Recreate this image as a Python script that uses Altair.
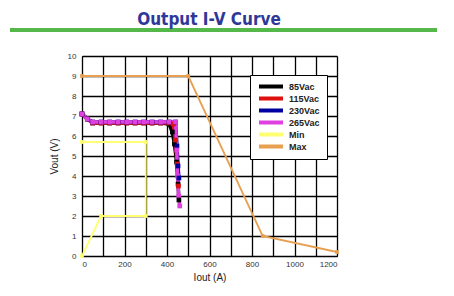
import altair as alt
import pandas as pd

# ---- data ----
i_85 = [0, 25, 50, 90, 130, 170, 210, 250, 290, 330, 370, 410, 425, 435, 445, 452, 456]
v_85 = [7.1, 6.85, 6.65, 6.65, 6.65, 6.65, 6.65, 6.65, 6.65, 6.65, 6.65, 6.6, 6.2, 5.6, 4.7, 3.6, 2.8]
i_115 = [0, 25, 50, 90, 130, 170, 210, 250, 290, 330, 370, 410, 430, 440, 448, 454]
v_115 = [7.1, 6.85, 6.65, 6.65, 6.65, 6.65, 6.65, 6.65, 6.65, 6.65, 6.65, 6.65, 6.6, 5.8, 4.6, 3.5]
i_230 = [0, 25, 50, 90, 130, 170, 210, 250, 290, 330, 370, 410, 440, 447, 452, 456]
v_230 = [7.1, 6.85, 6.7, 6.7, 6.7, 6.7, 6.7, 6.7, 6.7, 6.7, 6.7, 6.7, 6.7, 5.5, 4.5, 3.9]
i_265 = [0, 25, 50, 90, 130, 170, 210, 250, 290, 330, 370, 410, 440, 446, 450, 455, 460]
v_265 = [7.1, 6.85, 6.7, 6.7, 6.7, 6.7, 6.7, 6.7, 6.7, 6.7, 6.7, 6.7, 6.7, 5.3, 4.0, 3.0, 2.5]
i_min = [0, 90, 300, 300, 0]
v_min = [0, 2, 2, 5.7, 5.7]
i_max = [0, 500, 850, 1200]
v_max = [9, 9, 1, 0.2]

series_names = ["85Vac", "115Vac", "230Vac", "265Vac", "Min", "Max"]
series_colors = ["#000000", "#e01010", "#0000a0", "#e040e0", "#ffff70", "#e8a050"]
x_ticks = list(range(0, 1300, 100))
y_ticks = list(range(0, 11))
title_text = "Output I-V Curve"

rows = []
for name, xs, ys in zip(series_names,
                        [i_85, i_115, i_230, i_265, i_min, i_max],
                        [v_85, v_115, v_230, v_265, v_min, v_max]):
    for k, (a, b) in enumerate(zip(xs, ys)):
        rows.append({"series": name, "I": a, "V": b, "order": k})
df = pd.DataFrame(rows)

color = alt.Color("series:N",
                  scale=alt.Scale(domain=series_names, range=series_colors),
                  sort=series_names,
                  legend=alt.Legend(orient="none", legendX=168, legendY=19,
                                    title=None, symbolType="M-1,0H7",
                                    symbolStrokeWidth=4, symbolSize=36,
                                    labelFont="Liberation Sans", labelFontSize=9,
                                    labelFontWeight="bold", labelColor="#222",
                                    rowPadding=2, padding=7, fillColor="white",
                                    strokeColor="black", cornerRadius=0, clipHeight=9,
                                    labelLimit=60, labelOffset=22))

xenc = alt.X("I:Q", scale=alt.Scale(domain=[0, 1200], nice=False),
             axis=alt.Axis(values=x_ticks, title="Iout (A)", format="d",
                           labelExpr="datum.value % 200 == 0 ? datum.label : ''",
                           grid=True, gridColor="black", gridWidth=1.3, gridOpacity=1,
                           domainColor="black", tickSize=0, labelPadding=4,
                           labelFontSize=8, labelColor="#333", labelFont="Liberation Sans",
                           titleFont="Liberation Sans", titleFontSize=10, titleFontWeight="normal",
                           titleColor="#222", titlePadding=4))
yenc = alt.Y("V:Q", scale=alt.Scale(domain=[0, 10], nice=False),
             axis=alt.Axis(values=y_ticks, title="Vout (V)",
                           grid=True, gridColor="black", gridWidth=1.3, gridOpacity=1,
                           domainColor="black", tickSize=0, labelPadding=6,
                           labelFontSize=8, labelColor="#333", labelFont="Liberation Sans",
                           titleFont="Liberation Sans", titleFontSize=10, titleFontWeight="normal",
                           titleColor="#222", titlePadding=8))

thin = df[df.series.isin(["Min", "Max"])]
thick = df[~df.series.isin(["Min", "Max"])]

thin_layer = alt.Chart(thin).mark_line(strokeWidth=1.8, point=alt.OverlayMarkDef(shape="square", size=14, filled=True)).encode(
    x=xenc, y=yenc, color=color, order="order:Q")
thick_layer = alt.Chart(thick).mark_line(strokeWidth=3.5, point=alt.OverlayMarkDef(shape="square", size=22, filled=True)).encode(
    x=xenc, y=yenc, color=color, order="order:Q")

bar = alt.Chart(pd.DataFrame({"a": [0]})).mark_rule(color="#55b84a", strokeWidth=4).encode(
    x=alt.value(-72), x2=alt.value(355), y=alt.value(-26))

title = alt.Chart(pd.DataFrame({"t": [title_text]})).mark_text(
    font="DejaVu Sans Condensed", fontSize=17, fontWeight="bold", color="#2e3899",
    align="center", baseline="alphabetic").encode(
    text="t:N", x=alt.value(127), y=alt.value(-31))

chart = alt.layer(bar, title, thin_layer, thick_layer).properties(
    width=255, height=200,
    padding={"left": 82, "top": 56, "right": 117, "bottom": 40},
    autosize=alt.AutoSizeParams(type="none"),
).configure_view(stroke="black", strokeWidth=1.5).configure(background="white")

chart.save("out.html", embed_options={"renderer": "svg", "actions": False})
